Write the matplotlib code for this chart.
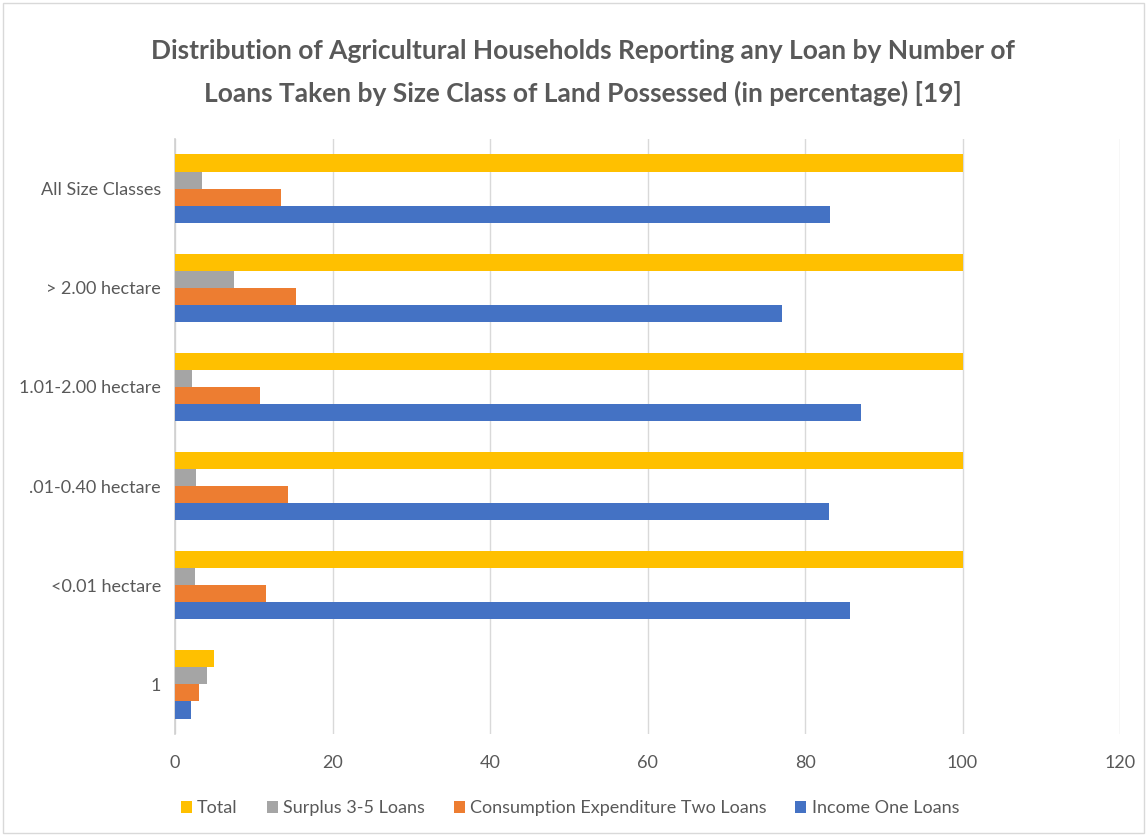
import matplotlib.pyplot as plt
import numpy as np
from matplotlib.patches import Rectangle

plt.rcParams['font.family'] = ['Lato', 'DejaVu Sans']

categories = ['1', '<0.01 hectare', '.01-0.40 hectare', '1.01-2.00 hectare', '> 2.00 hectare', 'All Size Classes']
income = [2, 85.7, 83.0, 87.1, 77.1, 83.2]
consumption = [3, 11.6, 14.3, 10.8, 15.4, 13.4]
surplus = [4, 2.5, 2.7, 2.2, 7.5, 3.4]
total = [5, 100, 100, 100, 100, 100]

series = [
    ('Income One Loans', income, '#4472c4'),
    ('Consumption Expenditure Two Loans', consumption, '#ed7d31'),
    ('Surplus 3-5 Loans', surplus, '#a5a5a5'),
    ('Total', total, '#ffc000'),
]

fig = plt.figure(figsize=(11.47, 8.36), dpi=100)
ax = fig.add_axes([175 / 1147, 1 - 734 / 836, (1120 - 175) / 1147, (734 - 139) / 836])

y = np.arange(len(categories))
h = 0.172
for i, (name, vals, col) in enumerate(series):
    ax.barh(y + (i - 1.5) * h, vals, height=h, color=col, label=name, zorder=3)

ax.set_xlim(0, 120)
ax.set_ylim(-0.5, len(categories) - 0.5)
ax.set_xticks(np.arange(0, 121, 20))
ax.set_yticks(y)
ax.set_yticklabels(categories)
ax.tick_params(length=0, labelsize=13, colors='#595959', pad=10)
ax.tick_params(axis='x', pad=15)
ax.grid(axis='x', color='#d9d9d9', linewidth=1, zorder=0)
for s in ['top', 'right', 'bottom']:
    ax.spines[s].set_visible(False)
ax.spines['left'].set_color('#d0d0d0')
ax.spines['left'].set_linewidth(1.2)

fig.suptitle('Distribution of Agricultural Households Reporting any Loan by Number of\n'
             'Loans Taken by Size Class of Land Possessed (in percentage) [19]',
             x=0.508, y=0.953, fontsize=19, fontweight='bold', color='#595959', linespacing=1.8)

handles, labels = ax.get_legend_handles_labels()
fig.legend(handles[::-1], labels[::-1], loc='center', bbox_to_anchor=(0.497, 0.033), ncol=4,
           frameon=False, fontsize=13, labelcolor='#595959', handlelength=0.6, handleheight=0.6,
           handletextpad=0.3, columnspacing=1.6)

fig.patches.append(Rectangle((0.003, 0.003), 0.994, 0.994, transform=fig.transFigure,
                             fill=False, edgecolor='#d9d9d9', linewidth=1))

fig.savefig('out.png', dpi=100)
